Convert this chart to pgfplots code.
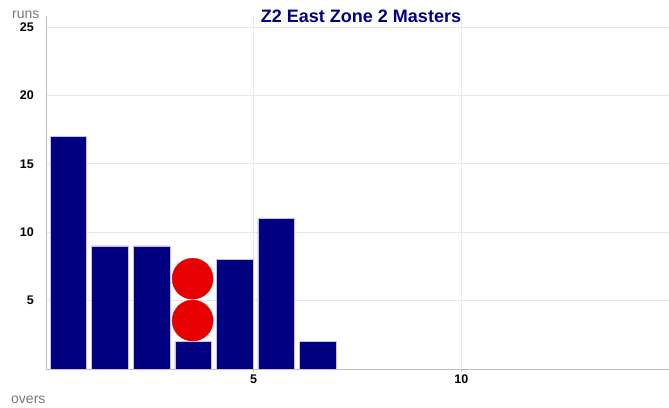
\documentclass[border=0pt]{standalone}
\usepackage{pgfplots}
\pgfplotsset{compat=1.18}
\usepackage{fontspec}
\setmainfont{Liberation Sans}
\definecolor{navy}{RGB}{0,0,128}
\definecolor{wkt}{RGB}{230,0,0}
\definecolor{gridc}{RGB}{232,232,232}
\definecolor{axc}{RGB}{190,190,190}
\definecolor{lblc}{RGB}{120,120,120}
\begin{document}
\begin{tikzpicture}[x=1pt,y=1pt]
\useasboundingbox (0,0) rectangle (669,407);
\begin{axis}[
  at={(46pt,38pt)}, anchor=south west,
  scale only axis, width=623pt, height=353pt,
  xmin=0, xmax=15, ymin=0, ymax=25.8,
  axis x line=bottom, axis y line=left,
  axis line style={axc, line width=0.8pt, -},
  xtick={5,10}, ytick={5,10,15,20,25},
  grid=major, major grid style={gridc, line width=0.6pt},
  tick align=outside,
  xtick style={axc, line width=0.6pt}, major tick length=3pt,
  ytick style={draw=none},
  /pgf/number format/assume math mode=true,
  xticklabel style={font=\fontsize{12.5}{14}\selectfont\bfseries, inner sep=0pt, anchor=north, yshift=-3pt},
  yticklabel style={font=\fontsize{12.5}{14}\selectfont\bfseries, inner sep=0pt, anchor=east, xshift=-9pt},
  clip=false,
]
\addplot[ybar, bar width=0.88, fill=navy, draw={rgb,255:red,195;green,195;blue,230}, line width=0.5pt]
  coordinates {(0.54,17) (1.54,9) (2.54,9) (3.54,2) (4.54,8) (5.54,11) (6.54,2)};
\addplot[only marks, mark=*, mark size=20.5pt, mark options={fill=wkt, draw=wkt}]
  coordinates {(3.53,3.54) (3.53,6.6)};
\end{axis}
\node[anchor=base, text=navy, font=\fontsize{18}{20}\selectfont\bfseries, inner sep=0pt] at (361,384) {Z2 East Zone 2 Masters};
\node[anchor=base west, text=lblc, font=\fontsize{14}{16}\selectfont, inner sep=0pt] at (12,388) {runs};
\node[anchor=base west, text=lblc, font=\fontsize{14}{16}\selectfont, inner sep=0pt] at (11,4) {overs};
\end{tikzpicture}
\end{document}
